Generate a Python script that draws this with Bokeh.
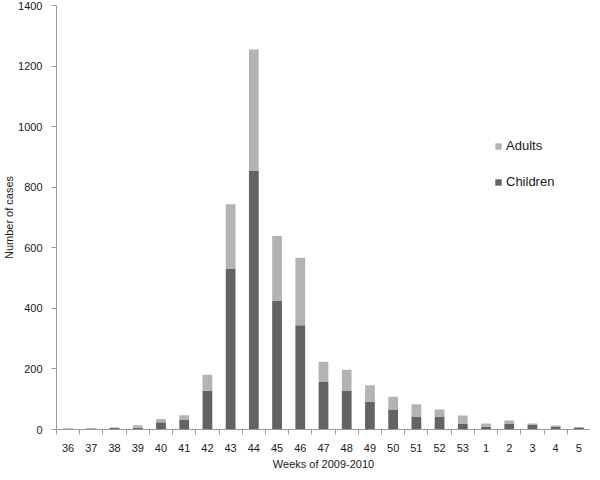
from bokeh.plotting import figure
from bokeh.models import ColumnDataSource, Range1d, FixedTicker, Legend, LegendItem
from bokeh.embed import file_html
from bokeh.resources import INLINE
import numpy as np

weeks = ["36", "37", "38", "39", "40", "41", "42", "43", "44", "45", "46", "47",
         "48", "49", "50", "51", "52", "53", "1", "2", "3", "4", "5"]
children = [2, 3, 5, 6, 24, 31, 128, 532, 855, 426, 344, 157,
            129, 92, 66, 43, 43, 20, 9, 20, 15, 8, 5]
totals = [4, 5, 7, 14, 35, 47, 181, 744, 1255, 639, 567, 224,
          197, 146, 108, 83, 66, 46, 20, 30, 20, 13, 8]
adults = [t - c for t, c in zip(totals, children)]

pos = np.arange(len(weeks)) + 0.5
src = ColumnDataSource(dict(x=pos, children=children, adults=adults))

FONT = "Liberation Sans"

p = figure(width=590, height=472, output_backend="svg", toolbar_location=None,
           x_range=Range1d(0, len(weeks)), y_range=Range1d(0, 1400),
           min_border_left=0, min_border_right=0, min_border_top=5,
           min_border_bottom=0)
p.outline_line_color = None
p.xgrid.visible = False
p.ygrid.visible = False
p.background_fill_color = "white"
p.border_fill_color = "white"

r = p.vbar_stack(["children", "adults"], x="x", width=0.42, source=src,
                 color=["#636363", "#b3b3b3"], line_color=None)

# axes
xa = p.xaxis[0]
xa.ticker = FixedTicker(ticks=list(pos), minor_ticks=list(np.arange(len(weeks) + 1)))
xa.major_label_overrides = {float(x): w for x, w in zip(pos, weeks)}
xa.major_tick_line_color = None
xa.major_tick_out = 0
xa.major_tick_in = 0
xa.minor_tick_out = 5
xa.minor_tick_in = 0
xa.minor_tick_line_color = "#9a9a9a"
xa.axis_line_color = "#9a9a9a"
xa.major_label_standoff = 9
xa.major_label_text_font = FONT
xa.major_label_text_font_size = "11px"
xa.major_label_text_color = "#1a1a1a"
xa.axis_label = "Weeks of 2009-2010"
xa.axis_label_text_font = FONT
xa.axis_label_text_font_size = "11px"
xa.axis_label_text_font_style = "normal"
xa.axis_label_text_color = "#1a1a1a"
xa.axis_label_standoff = 3

ya = p.yaxis[0]
ya.ticker = FixedTicker(ticks=list(range(0, 1401, 200)))
ya.major_tick_out = 5
ya.major_tick_in = 0
ya.minor_tick_line_color = None
ya.major_tick_line_color = "#9a9a9a"
ya.axis_line_color = "#9a9a9a"
ya.major_label_standoff = 9
ya.major_label_text_font = FONT
ya.major_label_text_font_size = "11px"
ya.major_label_text_color = "#1a1a1a"
ya.axis_label = "Number of cases"
ya.axis_label_text_font = FONT
ya.axis_label_text_font_size = "11px"
ya.axis_label_text_font_style = "normal"
ya.axis_label_text_color = "#1a1a1a"
ya.axis_label_standoff = 0

legend = Legend(items=[LegendItem(label="Adults", renderers=[r[1]]),
                       LegendItem(label="Children", renderers=[r[0]])],
                location=(438, 240), orientation="vertical",
                background_fill_alpha=0, border_line_color=None,
                label_text_font=FONT, label_text_font_size="13px",
                label_text_color="#1a1a1a", glyph_width=8, glyph_height=8,
                spacing=21, label_standoff=4, padding=0, margin=0)
p.add_layout(legend)

open("out.html", "w").write(file_html(p, INLINE))
